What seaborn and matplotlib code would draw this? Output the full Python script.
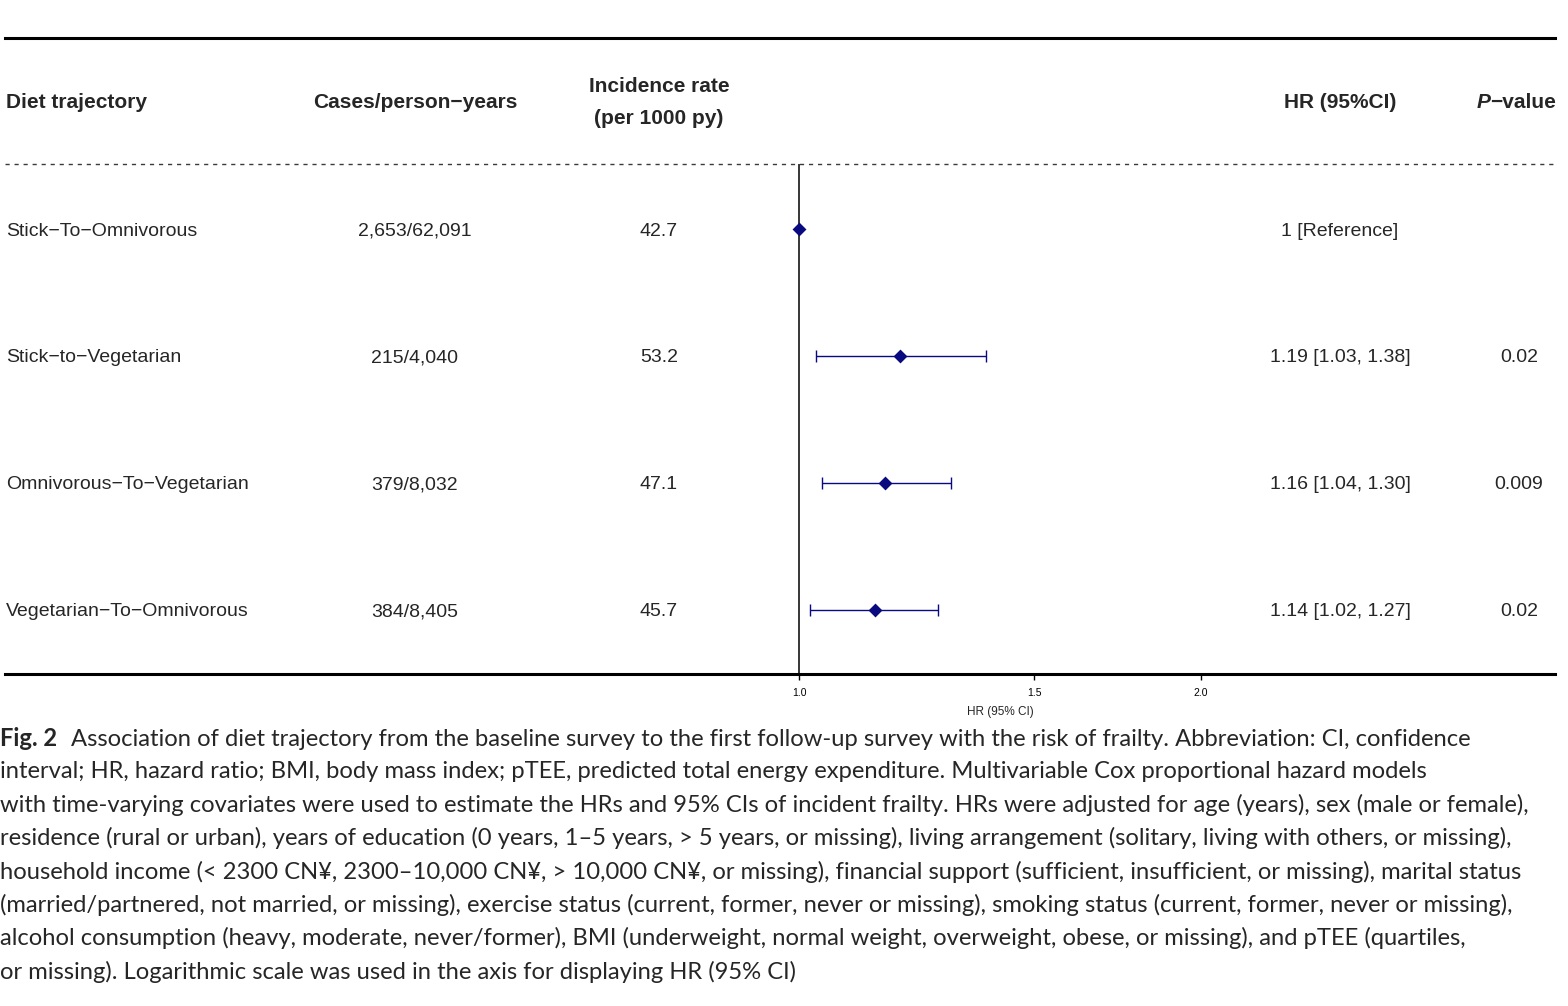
"""
Forest plot of diet trajectory and risk of frailty (Fig. 2).
"""
import numpy as np
import pandas as pd
import matplotlib
matplotlib.use('Agg')
import matplotlib.pyplot as plt
import matplotlib.transforms as mtransforms
import seaborn as sns

# data
trajectory = ['Stick\u2212To\u2212Omnivorous', 'Stick\u2212to\u2212Vegetarian',
              'Omnivorous\u2212To\u2212Vegetarian', 'Vegetarian\u2212To\u2212Omnivorous']
cases = ['2,653/62,091', '215/4,040', '379/8,032', '384/8,405']
incidence = [42.7, 53.2, 47.1, 45.7]
hr = [1.00, 1.19, 1.16, 1.14]
hr_lower = [np.nan, 1.03, 1.04, 1.02]
hr_upper = [np.nan, 1.38, 1.30, 1.27]
p_values = ['', '0.02', '0.009', '0.02']
x_ticks = [1.0, 1.5, 2.0]
x_tick_labels = ['1.0', '1.5', '2.0']

caption_lines = [
    'Association of diet trajectory from the baseline survey to the first '
    'follow-up survey with the risk of frailty. Abbreviation: CI, confidence',
    'interval; HR, hazard ratio; BMI, body mass index; pTEE, predicted total '
    'energy expenditure. Multivariable Cox proportional hazard models',
    'with time-varying covariates were used to estimate the HRs and 95% CIs of '
    'incident frailty. HRs were adjusted for age (years), sex (male or female),',
    'residence (rural or urban), years of education (0 years, 1\u20135 years, > 5 years, '
    'or missing), living arrangement (solitary, living with others, or missing),',
    'household income (< 2300 CN\u00a5, 2300\u201310,000 CN\u00a5, > 10,000 CN\u00a5, '
    'or missing), financial support (sufficient, insufficient, or missing), marital status',
    '(married/partnered, not married, or missing), exercise status (current, former, '
    'never or missing), smoking status (current, former, never or missing),',
    'alcohol consumption (heavy, moderate, never/former), BMI (underweight, normal '
    'weight, overweight, obese, or missing), and pTEE (quartiles,',
    'or missing). Logarithmic scale was used in the axis for displaying HR (95% CI)',
]

df = pd.DataFrame({
    'trajectory': trajectory, 'cases': cases, 'incidence': incidence,
    'hr': hr, 'lower': hr_lower, 'upper': hr_upper, 'p': p_values,
})
df['row'] = np.arange(len(df))
df['hr_text'] = [
    '1 [Reference]' if np.isnan(lo) else f'{h:.2f} [{lo:.2f}, {up:.2f}]'
    for h, lo, up in zip(df['hr'], df['lower'], df['upper'])
]

sns.set_style('white')
plt.rcParams['font.family'] = ['Liberation Sans', 'DejaVu Sans']

W, H = 1568, 1006
navy = '#0a0a80'
fig = plt.figure(figsize=(W / 100, H / 100), dpi=100)
ax = fig.add_axes([5 / W, 1 - 674 / H, 1550 / W, 636 / H])

# confidence intervals and point estimates
ci = df.dropna(subset=['lower'])
ax.errorbar(ci['hr'], ci['row'],
            xerr=[ci['hr'] - ci['lower'], ci['upper'] - ci['hr']],
            fmt='none', ecolor=navy, elinewidth=1.0, capsize=4.5, capthick=1.0,
            zorder=3)
sns.scatterplot(data=df, x='hr', y='row', marker='D', color=navy, s=50,
                edgecolor=navy, linewidth=0, legend=False, ax=ax, zorder=4)

ax.set_xscale('log')
ax.set_xlim(0.2544, 3.682)
ax.set_ylim(3.504, -1.504)
ax.set_xticks(x_ticks)
ax.set_xticklabels(x_tick_labels)
ax.xaxis.set_minor_locator(matplotlib.ticker.NullLocator())
ax.set_yticks([])
ax.tick_params(axis='x', direction='out', length=4, width=1, labelsize=7.5,
               pad=6, bottom=True, colors='black')
ax.set_xlabel('HR (95% CI)', fontsize=8.5)
ax.xaxis.set_label_coords((1000 - 5) / 1550, -32 / 636)
ax.set_ylabel('')
for side in ['left', 'right']:
    ax.spines[side].set_visible(False)
for side in ['top', 'bottom']:
    ax.spines[side].set_linewidth(2.2)
    ax.spines[side].set_color('black')

ax.axhline(-0.512, color='#3a3a3a', lw=1.0, ls=(0, (3, 3.5)))
ax.vlines(1.0, -0.512, 3.504, color='black', lw=1.1)

# table columns
trans = mtransforms.blended_transform_factory(fig.transFigure, ax.transData)
hdr = dict(fontsize=15, fontweight='bold', va='center', transform=trans)
ax.text(6 / W, -1.0, 'Diet trajectory', ha='left', **hdr)
ax.text(415 / W, -1.0, 'Cases/person\u2212years', ha='center', **hdr)
ax.text(659 / W, -1.126, 'Incidence rate', ha='center', **hdr)
ax.text(659 / W, -0.874, '(per 1000 py)', ha='center', **hdr)
ax.text(1340 / W, -1.0, 'HR (95%CI)', ha='center', **hdr)
pv = ax.text(1556 / W, -1.0, '\u2212value', ha='right', **hdr)
ax.annotate('P', xy=(0, 0), xycoords=pv, ha='right', va='bottom',
            fontsize=15, fontweight='bold', fontstyle='italic')

body = dict(fontsize=14, va='center_baseline', transform=trans)
for _, r in df.iterrows():
    ax.text(6 / W, r['row'], r['trajectory'], ha='left', **body)
    ax.text(415 / W, r['row'], r['cases'], ha='center', **body)
    ax.text(659 / W, r['row'], f"{r['incidence']:.1f}", ha='center', **body)
    ax.text(1340 / W, r['row'], r['hr_text'], ha='center', **body)
    ax.text(1519 / W, r['row'], r['p'], ha='center', **body)

# caption
cap_size = 15
cap_font = ['Lato', 'DejaVu Sans']
line_y = [739, 772, 805, 838, 872, 905, 938, 972]
fig_lbl = fig.text(0 / W, 1 - line_y[0] / H, 'Fig. 2', ha='left', va='center',
                   fontsize=cap_size, fontweight='bold', family=cap_font)
cap_texts = [fig_lbl]
first = fig.text(0, 0, caption_lines[0], fontsize=cap_size, family=cap_font)
cap_texts.append(first)
for yy, line in zip(line_y[1:], caption_lines[1:]):
    cap_texts.append(fig.text(0 / W, 1 - yy / H, line, ha='left', va='center',
                              fontsize=cap_size, family=cap_font))

# fit caption width to the original line length
fig.canvas.draw()
rend = fig.canvas.get_renderer()
w_lbl = fig_lbl.get_window_extent(rend).width
w_first = first.get_window_extent(rend).width
scale = 1477 / (w_lbl + w_first + 12)
for t in cap_texts:
    t.set_fontsize(cap_size * scale)
fig.canvas.draw()
bb = fig_lbl.get_window_extent(rend)
first.set_position(((bb.x1 + 12 * scale) / W, 1 - line_y[0] / H))
first.set_va('center')

fig.savefig('out.png', dpi=100)
